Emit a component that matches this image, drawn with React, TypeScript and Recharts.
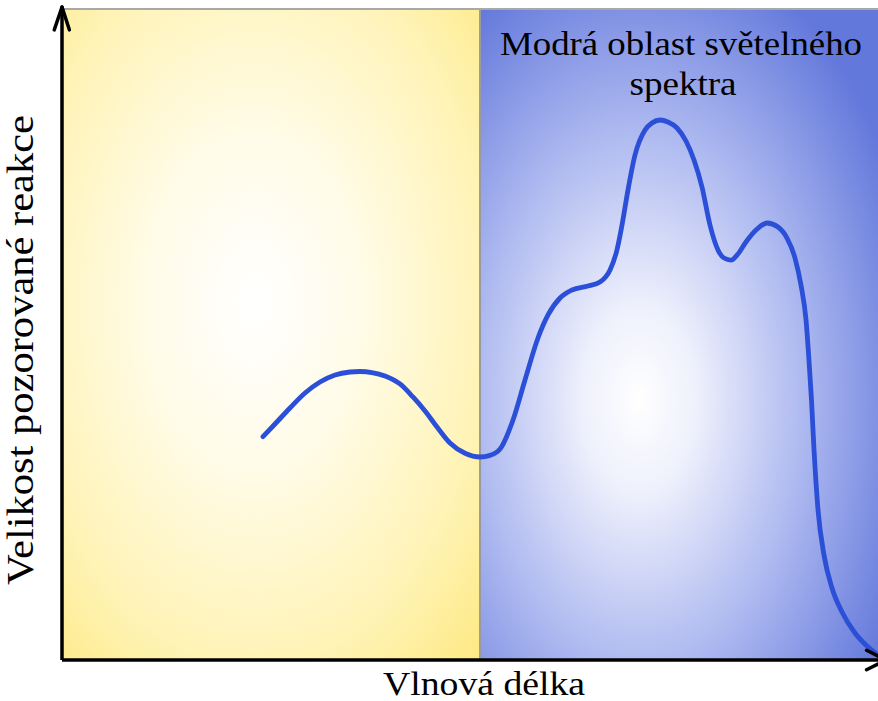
import React from "react";
import { LineChart, Line, XAxis, YAxis, ReferenceArea, ReferenceLine } from "recharts";

// Relative wavelength (0–100 across the axis) and relative response (0–100)
const wavelength = [
  24.63, 26.1, 27.94, 29.78, 31.62, 33.46, 35.29, 36.52, 37.99, 39.58, 41.42, 43.01,
  44.49, 45.96, 47.55, 49.39, 51.23, 52.45, 53.68, 55.27, 56.74, 58.33, 59.56, 61.03,
  62.5, 64.46, 65.93, 67.16, 68.01, 68.63, 69.36, 70.22, 71.45, 72.3, 73.28, 74.26,
  75.37, 76.47, 77.45, 78.43, 79.41, 80.39, 81.13, 81.99, 82.84, 83.82, 85.05, 86.4,
  87.75, 88.85, 89.83, 90.56, 91.18, 91.54, 91.85, 92.16, 92.65, 93.38, 94.36, 95.59,
  97.18, 98.65, 100,
];
const response = [
  34.3, 36.25, 38.71, 41.01, 42.7, 43.78, 44.24, 44.32, 44.16, 43.63, 42.4, 40.4,
  38.25, 35.79, 33.33, 31.76, 31.18, 31.43, 32.4, 36.87, 43.01, 49.46, 53.0, 55.61,
  56.84, 57.45, 58.06, 59.91, 62.98, 66.82, 72.2, 77.57, 81.41, 82.49, 82.95, 82.64,
  81.72, 79.72, 76.8, 72.66, 66.82, 62.98, 61.75, 61.44, 62.37, 64.21, 66.05, 67.13,
  66.51, 64.82, 61.75, 57.6, 52.23, 46.08, 39.94, 32.26, 23.04, 16.13, 11.06, 7.37,
  4.15, 2.15, 0.77,
];
const blueStart = 51.23;
const xLabel = "Vlnová délka";
const yLabel = "Velikost pozorované reakce";
const regionTitle = ["Modrá oblast světelného", "spektra"];

const data = wavelength.map((x, i) => ({ x, y: response[i] }));

const serif = "'Liberation Serif', 'Times New Roman', 'DejaVu Serif', serif";
const textStyle: React.CSSProperties = { fontFamily: serif, fill: "#000" };

export default function App() {
  return (
    <div style={{ position: "absolute", left: 0, top: 0, width: 878, height: 701, background: "#fff" }}>
      <LineChart width={878} height={701} data={data} margin={{ top: 9, right: 0, bottom: 41, left: 62 }}>
        <defs>
          <radialGradient id="yellowGrad" cx="0.46" cy="0.45" r="0.8">
            <stop offset="0" stopColor="#ffffff" />
            <stop offset="0.3" stopColor="#fffcea" />
            <stop offset="0.7" stopColor="#fff3b5" />
            <stop offset="1" stopColor="#fde87c" />
          </radialGradient>
          <radialGradient id="blueGrad" cx="0.4" cy="0.6" r="0.72">
            <stop offset="0" stopColor="#ffffff" />
            <stop offset="0.2" stopColor="#eef0fc" />
            <stop offset="0.6" stopColor="#a9b5ef" />
            <stop offset="1" stopColor="#6378db" />
          </radialGradient>
        </defs>
        <XAxis type="number" dataKey="x" domain={[0, 100]} hide allowDataOverflow />
        <YAxis type="number" domain={[0, 100]} hide allowDataOverflow />
        <ReferenceArea x1={0} x2={blueStart} y1={0} y2={100} fill="url(#yellowGrad)" fillOpacity={1} stroke="none" />
        <ReferenceArea x1={blueStart} x2={100} y1={0} y2={100} fill="url(#blueGrad)" fillOpacity={1} stroke="none" />
        <ReferenceLine segment={[{ x: blueStart, y: 0 }, { x: blueStart, y: 100 }]} stroke="#9a9a9a" strokeWidth={2} />
        <ReferenceLine segment={[{ x: 0, y: 100 }, { x: 100, y: 100 }]} stroke="#a8a8a8" strokeWidth={2} />
        <Line
          type="monotone"
          dataKey="y"
          stroke="#2b4fd7"
          strokeWidth={4.8}
          strokeLinecap="round"
          strokeLinejoin="round"
          dot={false}
          activeDot={false}
          isAnimationActive={false}
        />
        <ReferenceLine segment={[{ x: 0, y: 0 }, { x: 0, y: 100.3 }]} stroke="#000" strokeWidth={3.5} ifOverflow="visible" />
        <ReferenceLine segment={[{ x: 0, y: 100.3 }, { x: -0.95, y: 96.8 }]} stroke="#000" strokeWidth={3.5} strokeLinecap="round" ifOverflow="visible" />
        <ReferenceLine segment={[{ x: 0, y: 100.3 }, { x: 0.9, y: 96.8 }]} stroke="#000" strokeWidth={3.5} strokeLinecap="round" ifOverflow="visible" />
        <ReferenceLine segment={[{ x: 0, y: 0 }, { x: 101, y: 0 }]} stroke="#000" strokeWidth={3.5} ifOverflow="visible" />
        <ReferenceLine segment={[{ x: 101, y: 0 }, { x: 98.6, y: 1.5 }]} stroke="#000" strokeWidth={3.5} strokeLinecap="round" ifOverflow="visible" />
        <ReferenceLine segment={[{ x: 101, y: 0 }, { x: 98.6, y: -1.5 }]} stroke="#000" strokeWidth={3.5} strokeLinecap="round" ifOverflow="visible" />
      </LineChart>
      <svg
        width={878}
        height={701}
        style={{ position: "absolute", left: 0, top: 0, pointerEvents: "none", overflow: "visible" }}
      >
        <text x={681} y={55} textAnchor="middle" fontSize={33} style={textStyle} textLength={362} lengthAdjust="spacingAndGlyphs">
          {regionTitle[0]}
        </text>
        <text x={683} y={95} textAnchor="middle" fontSize={33} style={textStyle} textLength={107} lengthAdjust="spacingAndGlyphs">
          {regionTitle[1]}
        </text>
        <text x={484} y={695} textAnchor="middle" fontSize={33} style={textStyle} textLength={202} lengthAdjust="spacingAndGlyphs">
          {xLabel}
        </text>
        <text transform="translate(33,350) rotate(-90)" x={0} y={0} textAnchor="middle" fontSize={37} style={textStyle} textLength={470} lengthAdjust="spacingAndGlyphs">
          {yLabel}
        </text>
      </svg>
    </div>
  );
}
